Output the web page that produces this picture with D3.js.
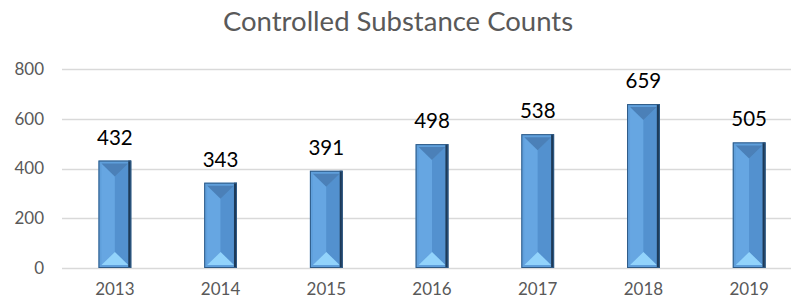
<!DOCTYPE html>
<html>
<head>
<meta charset="utf-8">
<script src="https://cdn.jsdelivr.net/npm/d3@7"></script>
<style>
  body { margin: 0; background: #fff; }
  svg { display: block; font-family: Lato, "Open Sans", sans-serif; }
</style>
</head>
<body>
<script>
const width = 791;
const height = 306;

const years = ["2013", "2014", "2015", "2016", "2017", "2018", "2019"];
const counts = [432, 343, 391, 498, 538, 659, 505];
const yTicks = [0, 200, 400, 600, 800];

const margin = {top: 69, right: -11, bottom: 38, left: 62};

const svg = d3.select("body").append("svg")
  .attr("width", width)
  .attr("height", height);

const x = d3.scaleBand()
  .domain(years)
  .range([margin.left, width - margin.right])
  .paddingInner(0.69)
  .paddingOuter(0.345);

const y = d3.scaleLinear()
  .domain([0, 800])
  .range([height - margin.bottom, margin.top]);

// title
svg.append("text")
  .attr("x", 398)
  .attr("y", 31)
  .attr("text-anchor", "middle")
  .attr("fill", "#595959")
  .attr("font-size", 27.5)
  .text("Controlled Substance Counts");

// gridlines
svg.append("g")
  .selectAll("line")
  .data(yTicks)
  .join("line")
  .attr("x1", margin.left)
  .attr("x2", width)
  .attr("y1", d => Math.round(y(d)) + 0.5)
  .attr("y2", d => Math.round(y(d)) + 0.5)
  .attr("stroke", "#d9d9d9")
  .attr("stroke-width", 1.5);

// y axis labels
const yAxis = svg.append("g")
  .attr("transform", `translate(${margin.left - 18},0)`)
  .call(d3.axisLeft(y).tickValues(yTicks).tickSize(0).tickPadding(0));
yAxis.select(".domain").remove();
yAxis.selectAll("text")
  .attr("fill", "#595959")
  .attr("font-size", 17)
  .attr("font-family", "Lato, sans-serif");

// x axis labels
const xAxis = svg.append("g")
  .attr("transform", `translate(0,${height - margin.bottom})`)
  .call(d3.axisBottom(x).tickSize(0).tickPadding(15));
xAxis.select(".domain").remove();
xAxis.selectAll("text")
  .attr("fill", "#595959")
  .attr("font-size", 17)
  .attr("font-family", "Lato, sans-serif");

// bevelled bars
const bars = svg.append("g")
  .selectAll("g")
  .data(years.map((yr, i) => ({year: yr, value: counts[i]})))
  .join("g");

const bw = x.bandwidth();
const inset = 3;
const tip = 13; // depth of top/bottom triangles

function pts(arr) { return arr.map(p => p.join(",")).join(" "); }

// outer frame
bars.append("rect")
  .attr("x", d => x(d.year))
  .attr("y", d => y(d.value))
  .attr("width", bw)
  .attr("height", d => y(0) - y(d.value))
  .attr("fill", "#5f9fdb");

// inner faces
function face(d) {
  const x0 = x(d.year) + inset, x1 = x(d.year) + bw - inset;
  const cx = (x0 + x1) / 2;
  const t = y(d.value) + inset, bt = y(0) - inset;
  return {x0, x1, cx, t, bt};
}

bars.append("polygon")
  .attr("points", d => {
    const f = face(d);
    return pts([[f.x0, f.t], [f.cx, f.t + tip], [f.cx, f.bt - tip], [f.x0, f.bt]]);
  })
  .attr("fill", "#66a6e2");

bars.append("polygon")
  .attr("points", d => {
    const f = face(d);
    return pts([[f.x1, f.t], [f.cx, f.t + tip], [f.cx, f.bt - tip], [f.x1, f.bt]]);
  })
  .attr("fill", "#5391cf");

bars.append("polygon")
  .attr("points", d => {
    const f = face(d);
    return pts([[f.x0, f.t], [f.x1, f.t], [f.cx, f.t + tip]]);
  })
  .attr("fill", "#4b80b8");

bars.append("polygon")
  .attr("points", d => {
    const f = face(d);
    return pts([[f.x0, f.bt], [f.x1, f.bt], [f.cx, f.bt - tip]]);
  })
  .attr("fill", "#92d3fb");

// dark right and bottom edges
bars.append("line")
  .attr("x1", d => x(d.year) + bw - 1.5)
  .attr("x2", d => x(d.year) + bw - 1.5)
  .attr("y1", d => y(d.value))
  .attr("y2", y(0))
  .attr("stroke", "#1d3a58")
  .attr("stroke-width", 3);

bars.append("rect")
  .attr("x", d => x(d.year) + 0.5)
  .attr("y", d => y(d.value) + 0.5)
  .attr("width", bw - 1)
  .attr("height", d => y(0) - y(d.value) - 1)
  .attr("fill", "none")
  .attr("stroke", "#2f5a85")
  .attr("stroke-width", 1);

// value labels
bars.append("text")
  .attr("x", d => x(d.year) + bw / 2)
  .attr("y", d => y(d.value) - 16)
  .attr("text-anchor", "middle")
  .attr("fill", "#000")
  .attr("font-size", 20.5)
  .text(d => d.value);
</script>
</body>
</html>
